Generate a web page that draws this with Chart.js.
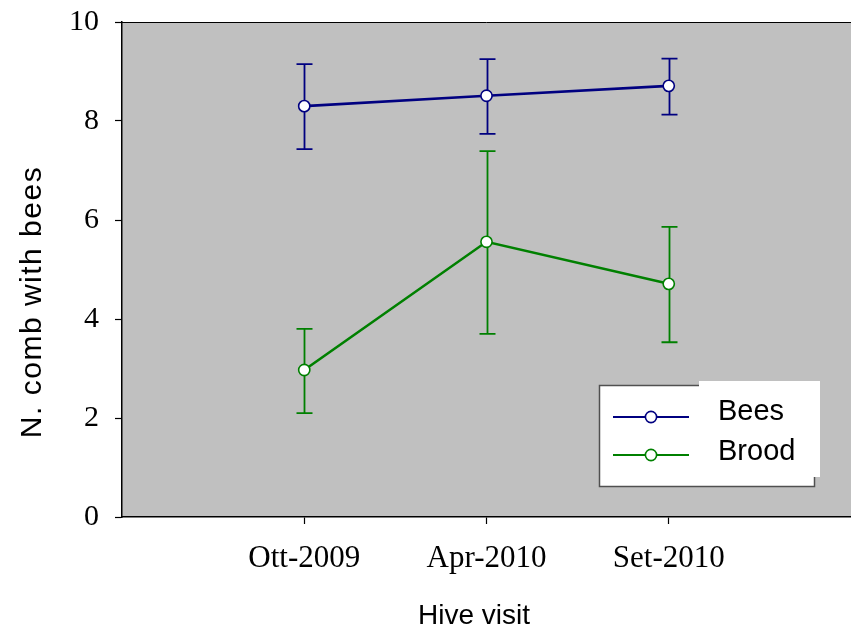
<!DOCTYPE html>
<html>
<head>
<meta charset="utf-8">
<script src="https://cdn.jsdelivr.net/npm/chart.js@4/dist/chart.umd.min.js"></script>
<style>
  html, body { margin: 0; padding: 0; background: #ffffff; }
  canvas { display: block; }
</style>
</head>
<body>
<canvas id="c" width="851" height="628"></canvas>
<script>
// Hive visits and mean number of combs per colony
const visits = ['Ott-2009', 'Apr-2010', 'Set-2010'];
const yTicks = [0, 2, 4, 6, 8, 10];

const beesMean  = [8.30, 8.51, 8.71];
const beesUpper = [9.15, 9.25, 9.26];
const beesLower = [7.43, 7.74, 8.13];

const broodMean  = [2.97, 5.56, 4.71];
const broodUpper = [3.80, 7.39, 5.86];
const broodLower = [2.10, 3.70, 3.53];

const NAVY = '#000080';
const GREEN = '#008000';

const toPoints = vals => vals.map((v, i) => ({ x: i, y: v }));

// keep the plotting field at a fixed size: no extra room for edge labels
function noEdgePadding(scale) {
  scale.paddingTop = 0;
  scale.paddingBottom = 0;
  scale.paddingLeft = 0;
  scale.paddingRight = 0;
}

// grey plotting field and top frame line
const plotBackground = {
  id: 'plotBackground',
  beforeDraw(chart) {
    const { ctx, chartArea: a } = chart;
    ctx.save();
    ctx.fillStyle = '#c0c0c0';
    ctx.fillRect(a.left, a.top, a.right - a.left, a.bottom - a.top);
    ctx.strokeStyle = '#000000';
    ctx.lineWidth = 1;
    ctx.beginPath();
    ctx.moveTo(a.left, a.top + 0.5);
    ctx.lineTo(a.right, a.top + 0.5);
    ctx.stroke();
    ctx.restore();
  }
};

// vertical error bars with caps, placed through the chart scales
const errorBars = {
  id: 'errorBars',
  beforeDatasetsDraw(chart) {
    const { ctx, scales: { x, y } } = chart;
    const sets = [
      { upper: beesUpper, lower: beesLower, color: NAVY },
      { upper: broodUpper, lower: broodLower, color: GREEN }
    ];
    ctx.save();
    ctx.lineWidth = 1.8;
    sets.forEach(s => {
      ctx.strokeStyle = s.color;
      s.upper.forEach((hi, i) => {
        const px = Math.round(x.getPixelForValue(i)) + 0.5;
        const pHi = y.getPixelForValue(hi);
        const pLo = y.getPixelForValue(s.lower[i]);
        ctx.beginPath();
        ctx.moveTo(px, pHi);
        ctx.lineTo(px, pLo);
        ctx.moveTo(px - 8, pHi);
        ctx.lineTo(px + 8, pHi);
        ctx.moveTo(px - 8, pLo);
        ctx.lineTo(px + 8, pLo);
        ctx.stroke();
      });
    });
    ctx.restore();
  }
};

// axis titles and the boxed legend
const decorations = {
  id: 'decorations',
  afterDraw(chart) {
    const { ctx } = chart;
    ctx.save();
    ctx.fillStyle = '#000000';
    ctx.textAlign = 'center';
    ctx.textBaseline = 'middle';

    // y axis title
    ctx.save();
    ctx.translate(33, 302);
    ctx.rotate(-Math.PI / 2);
    ctx.font = '30px "Liberation Sans", Arial, sans-serif';
    try { ctx.letterSpacing = '1.5px'; } catch (e) {}
    ctx.fillText('N. comb with bees', 0, 0);
    ctx.restore();

    // x axis title
    ctx.font = '28px "Liberation Sans", Arial, sans-serif';
    ctx.fillText('Hive visit', 474, 616);

    // legend box
    ctx.fillStyle = '#ffffff';
    ctx.fillRect(600, 385, 215, 102);
    ctx.strokeStyle = '#505050';
    ctx.lineWidth = 1.5;
    ctx.strokeRect(599.5, 385.5, 215, 101);
    ctx.fillStyle = '#ffffff';
    ctx.fillRect(699, 381, 121, 96);

    const entries = [
      { label: 'Bees', color: NAVY, y: 417, base: 420 },
      { label: 'Brood', color: GREEN, y: 455, base: 460 }
    ];
    entries.forEach(e => {
      ctx.strokeStyle = e.color;
      ctx.lineWidth = 2.2;
      ctx.beginPath();
      ctx.moveTo(613, e.y);
      ctx.lineTo(689, e.y);
      ctx.stroke();
      ctx.beginPath();
      ctx.arc(651, e.y, 5.6, 0, Math.PI * 2);
      ctx.fillStyle = '#ffffff';
      ctx.fill();
      ctx.lineWidth = 1.6;
      ctx.stroke();
      ctx.fillStyle = '#000000';
      ctx.textAlign = 'left';
      ctx.textBaseline = 'alphabetic';
      ctx.font = '29px "Liberation Sans", Arial, sans-serif';
      ctx.fillText(e.label, 718, e.base);
    });
    ctx.restore();
  }
};

new Chart(document.getElementById('c'), {
  type: 'line',
  data: {
    datasets: [
      {
        label: 'Bees',
        data: toPoints(beesMean),
        borderColor: NAVY,
        borderWidth: 2.6,
        pointRadius: 5.6,
        pointBorderWidth: 1.6,
        pointBackgroundColor: '#ffffff',
        pointBorderColor: NAVY,
        tension: 0
      },
      {
        label: 'Brood',
        data: toPoints(broodMean),
        borderColor: GREEN,
        borderWidth: 2.6,
        pointRadius: 5.6,
        pointBorderWidth: 1.6,
        pointBackgroundColor: '#ffffff',
        pointBorderColor: GREEN,
        tension: 0
      }
    ]
  },
  options: {
    responsive: false,
    animation: false,
    devicePixelRatio: 1,
    layout: { autoPadding: false, padding: { top: 22, right: 0, bottom: 0, left: 0 } },
    plugins: {
      legend: { display: false },
      tooltip: { enabled: false }
    },
    scales: {
      x: {
        type: 'linear',
        min: -1,
        max: 3,
        afterBuildTicks(scale) {
          scale.ticks = visits.map((_, i) => ({ value: i }));
        },
        afterFit(scale) {
          scale.height = 111;
          noEdgePadding(scale);
        },
        border: { display: true, color: '#000000', width: 1.5 },
        grid: {
          drawOnChartArea: false,
          drawTicks: true,
          tickLength: 7,
          tickColor: '#000000',
          tickWidth: 1.2
        },
        ticks: {
          autoSkip: false,
          maxRotation: 0,
          padding: 16,
          color: '#000000',
          font: { family: '"Liberation Serif", "Times New Roman", serif', size: 31 },
          callback: v => visits[v]
        }
      },
      y: {
        type: 'linear',
        min: 0,
        max: 10,
        afterBuildTicks(scale) {
          scale.ticks = yTicks.map(v => ({ value: v }));
        },
        afterFit(scale) {
          scale.width = 122;
          noEdgePadding(scale);
        },
        border: { display: true, color: '#000000', width: 1.5 },
        grid: {
          drawOnChartArea: false,
          drawTicks: true,
          tickLength: 7,
          tickColor: '#000000',
          tickWidth: 1.2
        },
        ticks: {
          padding: 16,
          color: '#000000',
          font: { family: '"Liberation Serif", "Times New Roman", serif', size: 30 }
        }
      }
    }
  },
  plugins: [plotBackground, errorBars, decorations]
});
</script>
</body>
</html>
